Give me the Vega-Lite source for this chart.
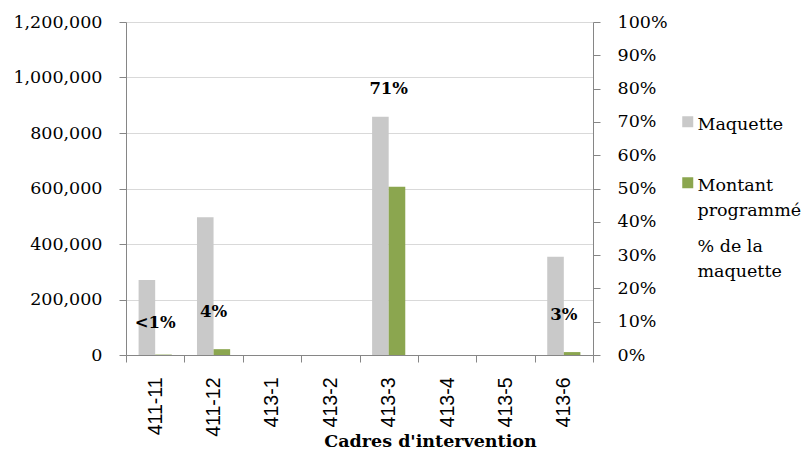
{
  "$schema": "https://vega.github.io/schema/vega-lite/v6.json",
  "autosize": {"type": "none"},
  "padding": {"left": 126, "top": 22, "right": 214, "bottom": 95},
  "width": 467,
  "height": 333,
  "background": "white",
  "datasets": {
    "bars": [
      {"cadre": "411-11", "series": "Maquette", "value": 270000},
      {"cadre": "411-11", "series": "Montant programmé", "value": 1500},
      {"cadre": "411-12", "series": "Maquette", "value": 496000},
      {"cadre": "411-12", "series": "Montant programmé", "value": 21000},
      {"cadre": "413-1", "series": "Maquette", "value": 0},
      {"cadre": "413-1", "series": "Montant programmé", "value": 0},
      {"cadre": "413-2", "series": "Maquette", "value": 0},
      {"cadre": "413-2", "series": "Montant programmé", "value": 0},
      {"cadre": "413-3", "series": "Maquette", "value": 859000},
      {"cadre": "413-3", "series": "Montant programmé", "value": 606000},
      {"cadre": "413-4", "series": "Maquette", "value": 0},
      {"cadre": "413-4", "series": "Montant programmé", "value": 0},
      {"cadre": "413-5", "series": "Maquette", "value": 0},
      {"cadre": "413-5", "series": "Montant programmé", "value": 0},
      {"cadre": "413-6", "series": "Maquette", "value": 354000},
      {"cadre": "413-6", "series": "Montant programmé", "value": 10500}
    ],
    "pct": [
      {"cadre": "411-11", "pct": 0.005, "label": "<1%"},
      {"cadre": "411-12", "pct": 0.04, "label": "4%"},
      {"cadre": "413-3", "pct": 0.71, "label": "71%"},
      {"cadre": "413-6", "pct": 0.03, "label": "3%"}
    ]
  },
  "layer": [
    {
      "data": {"name": "bars"},
      "mark": {"type": "bar"},
      "encoding": {
        "x": {
          "field": "cadre", "type": "nominal",
          "scale": {"domain": ["411-11", "411-12", "413-1", "413-2", "413-3", "413-4", "413-5", "413-6"], "paddingInner": 0, "paddingOuter": 0},
          "axis": {
            "title": "Cadres d'intervention",
            "titleFont": "DejaVu Serif", "titleFontSize": 17.5, "titleFontWeight": "bold", "titleColor": "#000000",
            "titleX": 304, "titleY": 91, "titleAlign": "center", "titleBaseline": "alphabetic", "titleAnchor": null,
            "labelAngle": 270, "labelFont": "Liberation Sans", "labelFontSize": 19.5, "labelColor": "#000000",
            "labelPadding": 15, "tickSize": 7, "tickBand": "extent", "tickColor": "#868686", "domainColor": "#868686", "domainWidth": 1, "tickWidth": 1
          }
        },
        "xOffset": {
          "field": "series", "type": "nominal",
          "scale": {"domain": ["Maquette", "Montant programmé"], "paddingInner": 0, "paddingOuter": 0.76}
        },
        "y": {
          "field": "value", "type": "quantitative",
          "scale": {"domain": [0, 1200000], "nice": false},
          "axis": {
            "title": null, "values": [0, 200000, 400000, 600000, 800000, 1000000, 1200000], "format": ",.0f",
            "labelFont": "DejaVu Serif", "labelFontSize": 17.5, "labelColor": "#000000", "labelPadding": 17,
            "tickSize": 7, "tickColor": "#868686", "domainColor": "#868686",
            "grid": true, "gridColor": "#d9d9d9", "gridWidth": 1.2
          }
        },
        "color": {
          "field": "series", "type": "nominal",
          "scale": {"domain": ["Maquette", "Montant programmé", "% de la maquette"], "range": ["#c9c9c9", "#8ba64f", "rgba(0,0,0,0)"]},
          "legend": {
            "title": null, "orient": "none", "legendX": 553, "legendY": 91, "padding": 0,
            "symbolType": "square", "symbolSize": 121, "symbolStrokeWidth": 0,
            "labelFont": "DejaVu Serif", "labelFontSize": 17.5, "labelColor": "#000000", "labelOffset": 1, "labelLimit": 300,
            "labelBaseline": "alphabetic", "rowPadding": 15, "gridAlign": "all",
            "labelExpr": "datum.label == 'Montant programmé' ? ['Montant', 'programmé'] : datum.label == '% de la maquette' ? ['% de la', 'maquette'] : datum.label",
            "encode": {"labels": {"update": {"lineHeight": {"value": 25}, "dy": {"value": 8.5}}}}
          }
        }
      }
    },
    {
      "data": {"name": "pct"},
      "mark": {"type": "text", "font": "DejaVu Serif", "fontSize": 16.5, "fontWeight": "bold", "color": "#000000", "dy": -30, "baseline": "middle"},
      "encoding": {
        "x": {"field": "cadre", "type": "nominal"},
        "y": {
          "field": "pct", "type": "quantitative",
          "scale": {"domain": [0, 1], "nice": false},
          "axis": {
            "orient": "right", "title": null, "values": [0, 0.1, 0.2, 0.3, 0.4, 0.5, 0.6, 0.7, 0.8, 0.9, 1], "format": ".0%",
            "labelFont": "DejaVu Serif", "labelFontSize": 17.5, "labelColor": "#000000", "labelPadding": 17,
            "tickSize": 7, "tickColor": "#868686", "domainColor": "#868686", "grid": false
          }
        },
        "text": {"field": "label", "type": "nominal"}
      }
    }
  ],
  "resolve": {"scale": {"y": "independent"}},
  "config": {"view": {"stroke": null}}
}
